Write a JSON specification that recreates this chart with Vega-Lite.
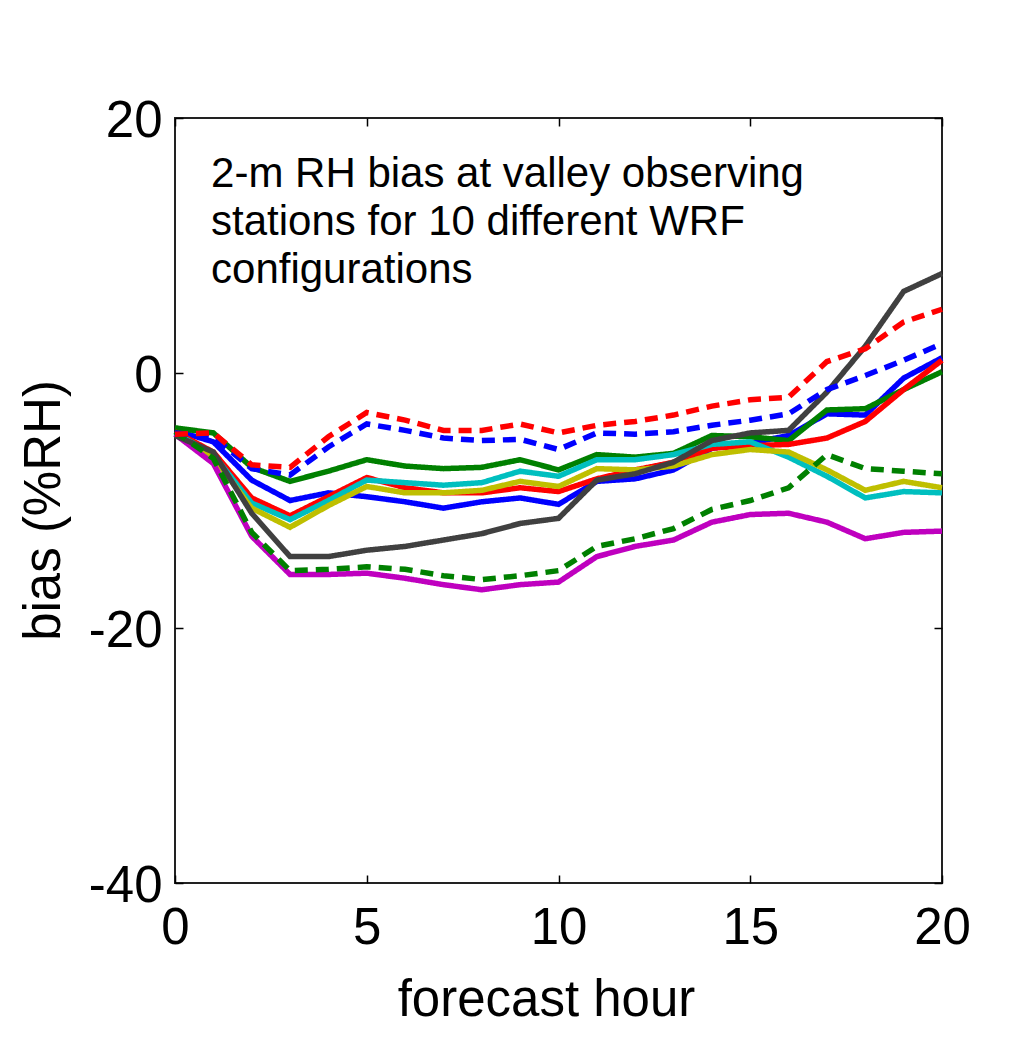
{
  "$schema": "https://vega.github.io/schema/vega-lite/v6.json",
  "width": 767,
  "height": 765,
  "autosize": "none",
  "padding": {"left": 175, "top": 118, "right": 88, "bottom": 158},
  "background": "white",
  "config": {
    "font": "Liberation Sans",
    "view": {"stroke": "#222222", "strokeWidth": 2},
    "axis": {"grid": false, "domain": false, "tickColor": "black", "tickWidth": 1.5, "labelColor": "black", "titleColor": "black", "labelFont": "Liberation Sans", "titleFont": "Liberation Sans", "titleFontWeight": "normal", "labelFlush": false, "labelOverlap": false}
  },
  "data": {
    "values": [
      {"s": "b", "h": 0, "v": -4.5}, {"s": "b", "h": 1, "v": -5.4}, {"s": "b", "h": 2, "v": -8.4}, {"s": "b", "h": 3, "v": -10.0}, {"s": "b", "h": 4, "v": -9.4}, {"s": "b", "h": 5, "v": -9.7}, {"s": "b", "h": 6, "v": -10.1}, {"s": "b", "h": 7, "v": -10.6}, {"s": "b", "h": 8, "v": -10.1}, {"s": "b", "h": 9, "v": -9.8}, {"s": "b", "h": 10, "v": -10.3}, {"s": "b", "h": 11, "v": -8.5}, {"s": "b", "h": 12, "v": -8.3}, {"s": "b", "h": 13, "v": -7.6}, {"s": "b", "h": 14, "v": -5.9}, {"s": "b", "h": 15, "v": -5.5}, {"s": "b", "h": 16, "v": -4.9}, {"s": "b", "h": 17, "v": -3.2}, {"s": "b", "h": 18, "v": -3.3}, {"s": "b", "h": 19, "v": -0.4}, {"s": "b", "h": 20, "v": 1.2},
      {"s": "g", "h": 0, "v": -4.3}, {"s": "g", "h": 1, "v": -4.7}, {"s": "g", "h": 2, "v": -7.4}, {"s": "g", "h": 3, "v": -8.5}, {"s": "g", "h": 4, "v": -7.7}, {"s": "g", "h": 5, "v": -6.8}, {"s": "g", "h": 6, "v": -7.3}, {"s": "g", "h": 7, "v": -7.5}, {"s": "g", "h": 8, "v": -7.4}, {"s": "g", "h": 9, "v": -6.8}, {"s": "g", "h": 10, "v": -7.6}, {"s": "g", "h": 11, "v": -6.4}, {"s": "g", "h": 12, "v": -6.6}, {"s": "g", "h": 13, "v": -6.3}, {"s": "g", "h": 14, "v": -4.9}, {"s": "g", "h": 15, "v": -5.0}, {"s": "g", "h": 16, "v": -5.3}, {"s": "g", "h": 17, "v": -2.9}, {"s": "g", "h": 18, "v": -2.8}, {"s": "g", "h": 19, "v": -1.3}, {"s": "g", "h": 20, "v": 0.1},
      {"s": "r", "h": 0, "v": -4.6}, {"s": "r", "h": 1, "v": -6.2}, {"s": "r", "h": 2, "v": -9.8}, {"s": "r", "h": 3, "v": -11.2}, {"s": "r", "h": 4, "v": -9.7}, {"s": "r", "h": 5, "v": -8.2}, {"s": "r", "h": 6, "v": -9.0}, {"s": "r", "h": 7, "v": -9.4}, {"s": "r", "h": 8, "v": -9.4}, {"s": "r", "h": 9, "v": -9.0}, {"s": "r", "h": 10, "v": -9.3}, {"s": "r", "h": 11, "v": -8.3}, {"s": "r", "h": 12, "v": -7.6}, {"s": "r", "h": 13, "v": -7.0}, {"s": "r", "h": 14, "v": -5.9}, {"s": "r", "h": 15, "v": -5.7}, {"s": "r", "h": 16, "v": -5.6}, {"s": "r", "h": 17, "v": -5.1}, {"s": "r", "h": 18, "v": -3.8}, {"s": "r", "h": 19, "v": -1.3}, {"s": "r", "h": 20, "v": 1.0},
      {"s": "c", "h": 0, "v": -4.7}, {"s": "c", "h": 1, "v": -6.4}, {"s": "c", "h": 2, "v": -10.2}, {"s": "c", "h": 3, "v": -11.5}, {"s": "c", "h": 4, "v": -10.0}, {"s": "c", "h": 5, "v": -8.4}, {"s": "c", "h": 6, "v": -8.6}, {"s": "c", "h": 7, "v": -8.8}, {"s": "c", "h": 8, "v": -8.6}, {"s": "c", "h": 9, "v": -7.7}, {"s": "c", "h": 10, "v": -8.1}, {"s": "c", "h": 11, "v": -6.8}, {"s": "c", "h": 12, "v": -6.8}, {"s": "c", "h": 13, "v": -6.4}, {"s": "c", "h": 14, "v": -5.6}, {"s": "c", "h": 15, "v": -5.4}, {"s": "c", "h": 16, "v": -6.6}, {"s": "c", "h": 17, "v": -8.1}, {"s": "c", "h": 18, "v": -9.8}, {"s": "c", "h": 19, "v": -9.3}, {"s": "c", "h": 20, "v": -9.4},
      {"s": "y", "h": 0, "v": -4.8}, {"s": "y", "h": 1, "v": -6.6}, {"s": "y", "h": 2, "v": -10.6}, {"s": "y", "h": 3, "v": -12.1}, {"s": "y", "h": 4, "v": -10.4}, {"s": "y", "h": 5, "v": -8.9}, {"s": "y", "h": 6, "v": -9.4}, {"s": "y", "h": 7, "v": -9.4}, {"s": "y", "h": 8, "v": -9.2}, {"s": "y", "h": 9, "v": -8.5}, {"s": "y", "h": 10, "v": -8.9}, {"s": "y", "h": 11, "v": -7.5}, {"s": "y", "h": 12, "v": -7.6}, {"s": "y", "h": 13, "v": -7.3}, {"s": "y", "h": 14, "v": -6.4}, {"s": "y", "h": 15, "v": -6.0}, {"s": "y", "h": 16, "v": -6.2}, {"s": "y", "h": 17, "v": -7.6}, {"s": "y", "h": 18, "v": -9.2}, {"s": "y", "h": 19, "v": -8.5}, {"s": "y", "h": 20, "v": -9.0},
      {"s": "m", "h": 0, "v": -4.8}, {"s": "m", "h": 1, "v": -7.1}, {"s": "m", "h": 2, "v": -12.8}, {"s": "m", "h": 3, "v": -15.8}, {"s": "m", "h": 4, "v": -15.8}, {"s": "m", "h": 5, "v": -15.7}, {"s": "m", "h": 6, "v": -16.1}, {"s": "m", "h": 7, "v": -16.6}, {"s": "m", "h": 8, "v": -17.0}, {"s": "m", "h": 9, "v": -16.6}, {"s": "m", "h": 10, "v": -16.4}, {"s": "m", "h": 11, "v": -14.4}, {"s": "m", "h": 12, "v": -13.6}, {"s": "m", "h": 13, "v": -13.1}, {"s": "m", "h": 14, "v": -11.7}, {"s": "m", "h": 15, "v": -11.1}, {"s": "m", "h": 16, "v": -11.0}, {"s": "m", "h": 17, "v": -11.7}, {"s": "m", "h": 18, "v": -13.0}, {"s": "m", "h": 19, "v": -12.5}, {"s": "m", "h": 20, "v": -12.4},
      {"s": "k", "h": 0, "v": -4.9}, {"s": "k", "h": 1, "v": -6.2}, {"s": "k", "h": 2, "v": -11.0}, {"s": "k", "h": 3, "v": -14.4}, {"s": "k", "h": 4, "v": -14.4}, {"s": "k", "h": 5, "v": -13.9}, {"s": "k", "h": 6, "v": -13.6}, {"s": "k", "h": 7, "v": -13.1}, {"s": "k", "h": 8, "v": -12.6}, {"s": "k", "h": 9, "v": -11.8}, {"s": "k", "h": 10, "v": -11.4}, {"s": "k", "h": 11, "v": -8.4}, {"s": "k", "h": 12, "v": -7.9}, {"s": "k", "h": 13, "v": -7.0}, {"s": "k", "h": 14, "v": -5.3}, {"s": "k", "h": 15, "v": -4.7}, {"s": "k", "h": 16, "v": -4.5}, {"s": "k", "h": 17, "v": -1.5}, {"s": "k", "h": 18, "v": 2.1}, {"s": "k", "h": 19, "v": 6.4}, {"s": "k", "h": 20, "v": 7.8},
      {"s": "gd", "h": 0, "v": -4.6}, {"s": "gd", "h": 1, "v": -6.7}, {"s": "gd", "h": 2, "v": -12.5}, {"s": "gd", "h": 3, "v": -15.5}, {"s": "gd", "h": 4, "v": -15.4}, {"s": "gd", "h": 5, "v": -15.2}, {"s": "gd", "h": 6, "v": -15.4}, {"s": "gd", "h": 7, "v": -15.9}, {"s": "gd", "h": 8, "v": -16.2}, {"s": "gd", "h": 9, "v": -15.9}, {"s": "gd", "h": 10, "v": -15.5}, {"s": "gd", "h": 11, "v": -13.6}, {"s": "gd", "h": 12, "v": -13.0}, {"s": "gd", "h": 13, "v": -12.2}, {"s": "gd", "h": 14, "v": -10.7}, {"s": "gd", "h": 15, "v": -10.0}, {"s": "gd", "h": 16, "v": -9.0}, {"s": "gd", "h": 17, "v": -6.4}, {"s": "gd", "h": 18, "v": -7.5}, {"s": "gd", "h": 19, "v": -7.7}, {"s": "gd", "h": 20, "v": -7.9},
      {"s": "bd", "h": 0, "v": -4.7}, {"s": "bd", "h": 1, "v": -5.0}, {"s": "bd", "h": 2, "v": -7.5}, {"s": "bd", "h": 3, "v": -8.0}, {"s": "bd", "h": 4, "v": -5.8}, {"s": "bd", "h": 5, "v": -4.0}, {"s": "bd", "h": 6, "v": -4.5}, {"s": "bd", "h": 7, "v": -5.1}, {"s": "bd", "h": 8, "v": -5.3}, {"s": "bd", "h": 9, "v": -5.2}, {"s": "bd", "h": 10, "v": -6.0}, {"s": "bd", "h": 11, "v": -4.7}, {"s": "bd", "h": 12, "v": -4.8}, {"s": "bd", "h": 13, "v": -4.6}, {"s": "bd", "h": 14, "v": -4.1}, {"s": "bd", "h": 15, "v": -3.7}, {"s": "bd", "h": 16, "v": -3.2}, {"s": "bd", "h": 17, "v": -1.3}, {"s": "bd", "h": 18, "v": -0.2}, {"s": "bd", "h": 19, "v": 1.0}, {"s": "bd", "h": 20, "v": 2.3},
      {"s": "rd", "h": 0, "v": -4.8}, {"s": "rd", "h": 1, "v": -4.7}, {"s": "rd", "h": 2, "v": -7.2}, {"s": "rd", "h": 3, "v": -7.4}, {"s": "rd", "h": 4, "v": -5.0}, {"s": "rd", "h": 5, "v": -3.1}, {"s": "rd", "h": 6, "v": -3.7}, {"s": "rd", "h": 7, "v": -4.5}, {"s": "rd", "h": 8, "v": -4.5}, {"s": "rd", "h": 9, "v": -4.0}, {"s": "rd", "h": 10, "v": -4.7}, {"s": "rd", "h": 11, "v": -4.1}, {"s": "rd", "h": 12, "v": -3.8}, {"s": "rd", "h": 13, "v": -3.3}, {"s": "rd", "h": 14, "v": -2.6}, {"s": "rd", "h": 15, "v": -2.1}, {"s": "rd", "h": 16, "v": -1.9}, {"s": "rd", "h": 17, "v": 0.9}, {"s": "rd", "h": 18, "v": 1.9}, {"s": "rd", "h": 19, "v": 4.0}, {"s": "rd", "h": 20, "v": 5.0}
    ]
  },
  "layer": [
    {
      "mark": {"type": "line", "strokeWidth": 5.5},
      "encoding": {
        "x": {"field": "h", "type": "quantitative", "scale": {"domain": [0, 20], "nice": false, "zero": false},
              "axis": {"orient": "bottom", "values": [0, 5, 10, 15, 20], "tickSize": -8, "labelFontSize": 51, "labelBaseline": "alphabetic", "labelPadding": 68, "labelExpr": "'' + datum.value", "title": "forecast hour", "titleFontSize": 51, "titleX": 371, "titleY": 132, "titleBaseline": "alphabetic", "titleAlign": "center"}},
        "y": {"field": "v", "type": "quantitative", "scale": {"domain": [-40, 20], "nice": false, "zero": false},
              "axis": {"orient": "left", "values": [-40, -20, 0, 20], "tickSize": -8, "labelFontSize": 51, "labelBaseline": "middle", "labelOffset": 3, "labelPadding": 21, "labelAlign": "right", "labelExpr": "'' + datum.value", "title": "bias (%RH)", "titleFontSize": 51, "titleX": -131, "titleY": 392, "titleAngle": 270, "titleBaseline": "middle", "titleAlign": "center"}},
        "color": {"field": "s", "type": "nominal", "legend": null,
                  "scale": {"domain": ["b", "g", "r", "c", "y", "m", "k", "gd", "bd", "rd"],
                            "range": ["#0000ff", "#008000", "#ff0000", "#00bfbf", "#bfbf00", "#bf00bf", "#404040", "#008000", "#0000ff", "#ff0000"]}},
        "strokeDash": {"field": "s", "type": "nominal", "legend": null,
                       "scale": {"domain": ["b", "g", "r", "c", "y", "m", "k", "gd", "bd", "rd"],
                                 "range": [[1, 0], [1, 0], [1, 0], [1, 0], [1, 0], [1, 0], [1, 0], [13, 8], [13, 8], [13, 8]]}}
      }
    },
    {
      "data": {"values": [{"note": "annotation"}]},
      "mark": {"type": "text", "align": "left", "baseline": "alphabetic", "fontSize": 42, "lineHeight": 48, "font": "Liberation Sans", "color": "black"},
      "encoding": {
        "x": {"datum": 0.94, "type": "quantitative",
              "axis": {"orient": "top", "values": [0, 5, 10, 15, 20], "tickSize": -8, "labels": false, "title": null}},
        "y": {"datum": 14.59, "type": "quantitative",
              "axis": {"orient": "right", "values": [-40, -20, 0, 20], "tickSize": -8, "labels": false, "title": null}},
        "text": {"value": ["2-m RH bias at valley observing", "stations for 10 different WRF", "configurations"]}
      }
    }
  ],
  "resolve": {"axis": {"x": "independent", "y": "independent"}}
}
